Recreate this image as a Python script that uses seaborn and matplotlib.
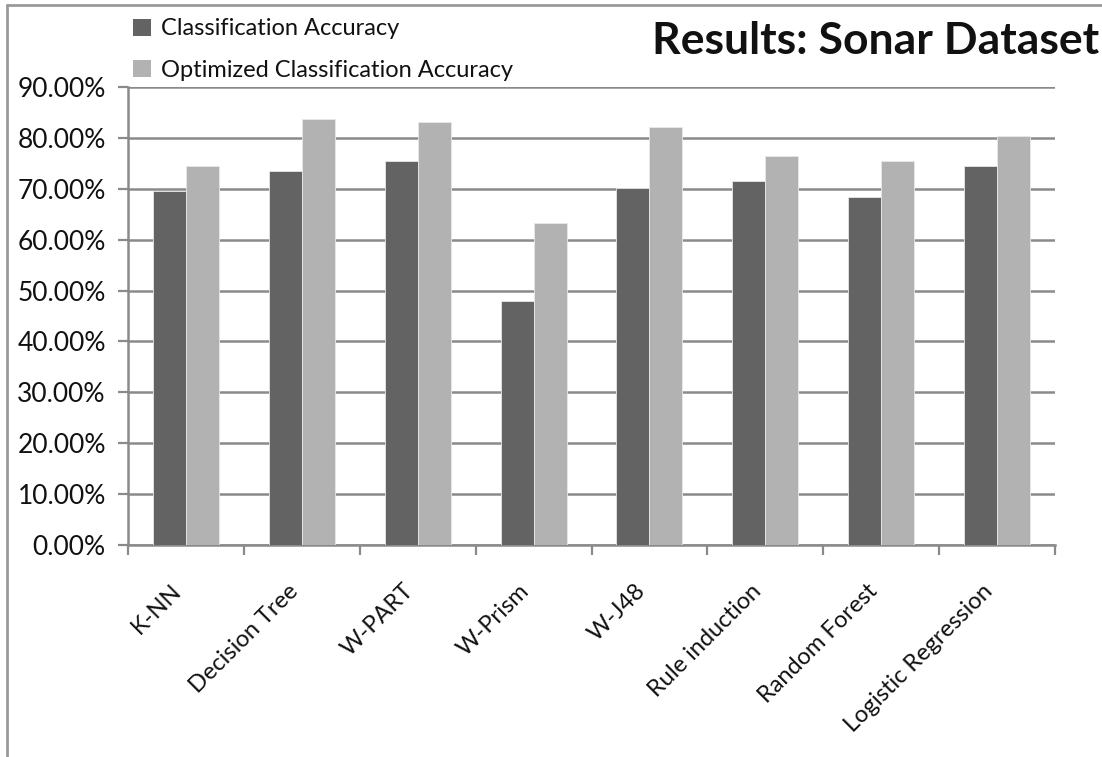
import matplotlib
matplotlib.use("Agg")
import matplotlib.pyplot as plt
from matplotlib.lines import Line2D
from matplotlib.patches import Patch
from matplotlib.ticker import PercentFormatter, MultipleLocator
import seaborn as sns
import pandas as pd

# Classifier results on the Sonar dataset (accuracy as fractions)
classifiers = ["K-NN", "Decision Tree", "W-PART", "W-Prism", "W-J48",
               "Rule induction", "Random Forest", "Logistic Regression"]
accuracy = [0.695, 0.735, 0.754, 0.479, 0.702, 0.716, 0.683, 0.745]
optimized_accuracy = [0.745, 0.837, 0.832, 0.633, 0.822, 0.764, 0.754, 0.804]
series_names = ["Classification Accuracy", "Optimized Classification Accuracy"]
series_colors = ["#636363", "#b2b2b2"]

df = pd.DataFrame({
    "Classifier": classifiers * 2,
    "Accuracy": accuracy + optimized_accuracy,
    "Series": [series_names[0]] * len(classifiers) + [series_names[1]] * len(classifiers),
})

sns.set_theme(style="white")
plt.rcParams["font.family"] = ["Lato", "DejaVu Sans"]

W, H = 1102, 757
fig = plt.figure(figsize=(W / 100, H / 100), dpi=100)
ax = fig.add_axes([128 / W, 1 - 545 / H, (1055 - 128) / W, (545 - 87) / H])

grid_color = "#8a8a8a"
text_color = "#111111"
fs = 17

sns.barplot(data=df, x="Classifier", y="Accuracy", hue="Series",
            palette=series_colors, width=0.57, gap=0, dodge=True,
            edgecolor="#e8e8e8", linewidth=0.6, legend=False, ax=ax, zorder=3)

ax.set_ylim(0, 0.9)
ax.set_xlim(-0.5, len(classifiers) - 0.5)
ax.yaxis.set_major_locator(MultipleLocator(0.1))
ax.yaxis.set_major_formatter(PercentFormatter(xmax=1, decimals=2))
ax.grid(axis="y", color=grid_color, linewidth=1.8, zorder=0)
ax.set_axisbelow(True)
ax.set_xlabel("")
ax.set_ylabel("")

for side in ["top", "right"]:
    ax.spines[side].set_visible(False)
for side in ["left", "bottom"]:
    ax.spines[side].set_color(grid_color)
    ax.spines[side].set_linewidth(1.8)

# Category boundary ticks on the x axis
ax.set_xticks([i - 0.5 for i in range(len(classifiers) + 1)], minor=True)
ax.tick_params(axis="x", which="minor", bottom=True, length=7, width=1.6,
               color=grid_color, direction="out")
ax.tick_params(axis="x", which="major", bottom=False, length=0, pad=36)
ax.tick_params(axis="y", left=True, length=7, width=1.6, color=grid_color,
               direction="out", pad=9)
ax.set_xticks(range(len(classifiers)))
ax.set_xticklabels(classifiers, rotation=45, ha="right", va="bottom",
                   rotation_mode="anchor", fontsize=fs, color=text_color)
for lbl in ax.get_yticklabels():
    lbl.set_fontsize(19)
    lbl.set_color(text_color)

# Legend above the plot area
handles = [Patch(facecolor=c, edgecolor="none") for c in series_colors]
fig.legend(handles, series_names, loc="upper left",
           bbox_to_anchor=(124 / W, 1 - 9 / H), frameon=False,
           fontsize=fs, handlelength=0.75, handleheight=0.75,
           handletextpad=0.4, labelspacing=0.85, borderaxespad=0,
           labelcolor=text_color)

fig.text(1099 / W, 1 - 41 / H, "Results: Sonar Dataset", ha="right",
         va="center", fontsize=32, fontweight="bold", color=text_color)

# Chart-area frame (left and top edges)
frame_color = "#9a9a9a"
fig.add_artist(Line2D([6.5 / W, 6.5 / W], [0, 1 - 5 / H],
                      transform=fig.transFigure, color=frame_color, linewidth=2))
fig.add_artist(Line2D([6.5 / W, 1], [1 - 5 / H, 1 - 5 / H],
                      transform=fig.transFigure, color=frame_color, linewidth=2))

fig.savefig("out.png", dpi=100, facecolor="white")
